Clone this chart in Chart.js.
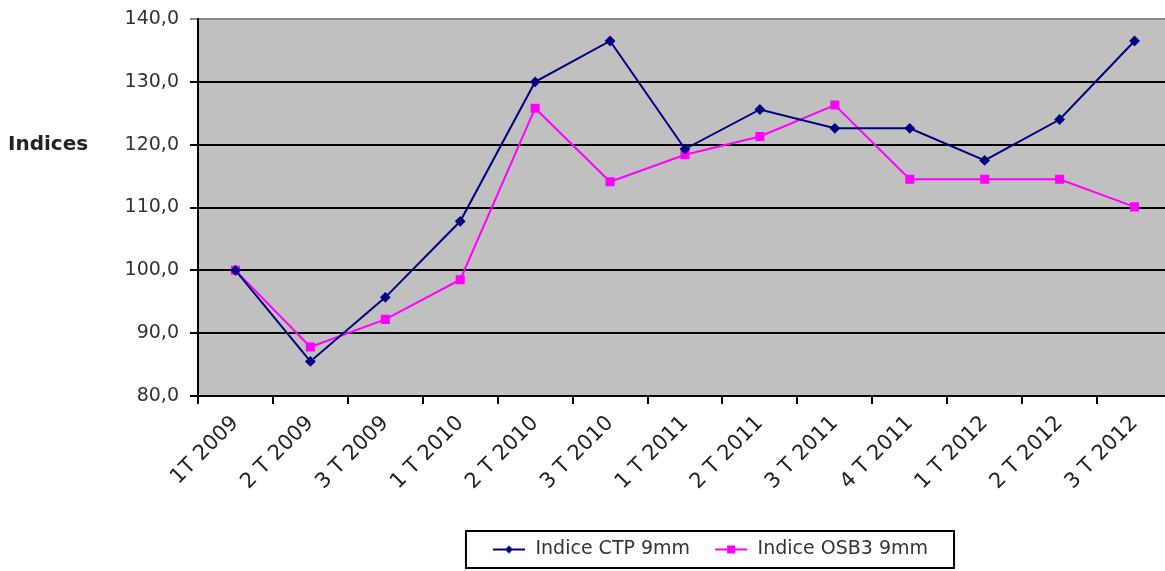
<!DOCTYPE html>
<html>
<head>
<meta charset="utf-8">
<script src="https://cdn.jsdelivr.net/npm/chart.js@4/dist/chart.umd.min.js"></script>
<style>
  html, body { margin: 0; padding: 0; background: #fff; overflow: hidden; }
  #wrap { width: 1165px; height: 571px; position: relative; overflow: hidden; }
</style>
</head>
<body>
<div id="wrap"><canvas id="chart" width="1179" height="571"></canvas></div>
<script>
const quarters = ['1T 2009', '2 T 2009', '3 T 2009', '1 T 2010', '2 T 2010', '3 T 2010', '1 T 2011',
    '2 T 2011', '3 T 2011', '4 T 2011', '1 T 2012', '2 T 2012', '3 T 2012'];
const ctpValues = [100.0, 85.5, 95.7, 107.8, 130.0, 136.5, 119.3, 125.6, 122.6, 122.6, 117.5, 124.0, 136.5];
const osbValues = [100.0, 87.8, 92.2, 98.5, 125.8, 114.1, 118.4, 121.3, 126.3, 114.5, 114.5, 114.5, 110.1];
const yTicks = [80, 90, 100, 110, 120, 130, 140];

const FONT = "'DejaVu Sans', Arial, sans-serif";

// small line+marker images for the legend
function legendIcon(color, shape) {
    const c = document.createElement('canvas');
    c.width = 34; c.height = 12;
    const g = c.getContext('2d');
    g.strokeStyle = color;
    g.lineWidth = 2;
    g.beginPath(); g.moveTo(1, 6); g.lineTo(33, 6); g.stroke();
    g.fillStyle = color;
    if (shape === 'diamond') {
        g.beginPath(); g.moveTo(17, 2); g.lineTo(21, 6); g.lineTo(17, 10); g.lineTo(13, 6); g.closePath(); g.fill();
    } else {
        g.fillRect(13, 2, 8, 8);
    }
    return c;
}

const plotExtras = {
    id: 'plotExtras',
    afterLayout(chart) {
        // the legend sits right of centre in the original
        const lg = chart.legend;
        lg.left = 255;
        lg.right = 1165;
        lg.top -= 2;
        lg.bottom -= 2;
    },
    beforeDraw(chart) {
        const a = chart.chartArea;
        const ctx = chart.ctx;
        ctx.save();
        ctx.fillStyle = '#c0c0c0';
        ctx.fillRect(a.left, a.top, a.right - a.left, a.bottom - a.top);
        ctx.restore();
    },
    afterDraw(chart) {
        const ctx = chart.ctx;
        ctx.save();
        // axis title, horizontal like the original
        ctx.font = "bold 20px " + FONT;
        ctx.fillStyle = '#222';
        ctx.textBaseline = 'middle';
        ctx.fillText('Indices', 8, chart.scales.y.getPixelForValue(120));
        // border round the legend items
        const boxes = chart.legend.legendHitBoxes;
        if (boxes.length) {
            const left = Math.min(...boxes.map(b => b.left)) - 26;
            const right = Math.max(...boxes.map(b => b.left + b.width)) + 26;
            const top = Math.min(...boxes.map(b => b.top)) - 9;
            const bottom = Math.max(...boxes.map(b => b.top + b.height)) + 9;
            ctx.strokeStyle = '#000';
            ctx.lineWidth = 2;
            ctx.strokeRect(left, top, right - left, bottom - top);
        }
        ctx.restore();
    }
};

new Chart(document.getElementById('chart'), {
    type: 'line',
    data: {
        labels: quarters,
        datasets: [{
            label: 'Indice CTP 9mm',
            data: ctpValues,
            borderColor: '#000080',
            backgroundColor: '#000080',
            borderWidth: 2,
            pointStyle: 'rectRot',
            pointRadius: 4,
            tension: 0
        }, {
            label: 'Indice OSB3 9mm',
            data: osbValues,
            borderColor: '#ff00ff',
            backgroundColor: '#ff00ff',
            borderWidth: 2,
            pointStyle: 'rect',
            pointRadius: 5,
            tension: 0
        }]
    },
    options: {
        responsive: false,
        animation: false,
        layout: { padding: { top: 19, right: 0, bottom: 0, left: 0 } },
        plugins: {
            tooltip: { enabled: false },
            legend: {
                position: 'bottom',
                labels: {
                    font: { family: FONT, size: 19 },
                    color: '#333',
                    usePointStyle: true,
                    pointStyleWidth: 34,
                    boxHeight: 12,
                    padding: 24,
                    generateLabels(chart) {
                        return chart.data.datasets.map((ds, i) => ({
                            text: ds.label,
                            pointStyle: legendIcon(ds.borderColor, i === 0 ? 'diamond' : 'square'),
                            fillStyle: ds.borderColor,
                            strokeStyle: ds.borderColor,
                            lineWidth: 0,
                            fontColor: '#333',
                            datasetIndex: i
                        }));
                    }
                }
            }
        },
        scales: {
            x: {
                offset: true,
                grid: { offset: true, drawOnChartArea: false, color: '#000', lineWidth: 2, tickLength: 8 },
                border: { color: '#000', width: 2 },
                ticks: {
                    font: { family: FONT, size: 21 },
                    color: '#222',
                    minRotation: 45,
                    maxRotation: 45,
                    autoSkip: false,
                    padding: 7
                },
                afterFit(scale) {
                    scale.height = 122;
                }
            },
            y: {
                min: 80,
                max: 140,
                afterBuildTicks(scale) { scale.ticks = yTicks.map(v => ({ value: v })); },
                grid: {
                    color: ctx => ctx.tick && ctx.tick.value === 140 ? '#888' : '#000',
                    lineWidth: 2,
                    tickLength: 8
                },
                border: { color: '#000', width: 2 },
                ticks: {
                    font: { family: FONT, size: 19 },
                    color: '#333',
                    padding: 11,
                    callback: v => v.toFixed(1).replace('.', ',')
                },
                afterFit(scale) {
                    scale.width = 198;
                    scale.paddingTop = 0;
                }
            }
        }
    },
    plugins: [plotExtras]
});
</script>
</body>
</html>
